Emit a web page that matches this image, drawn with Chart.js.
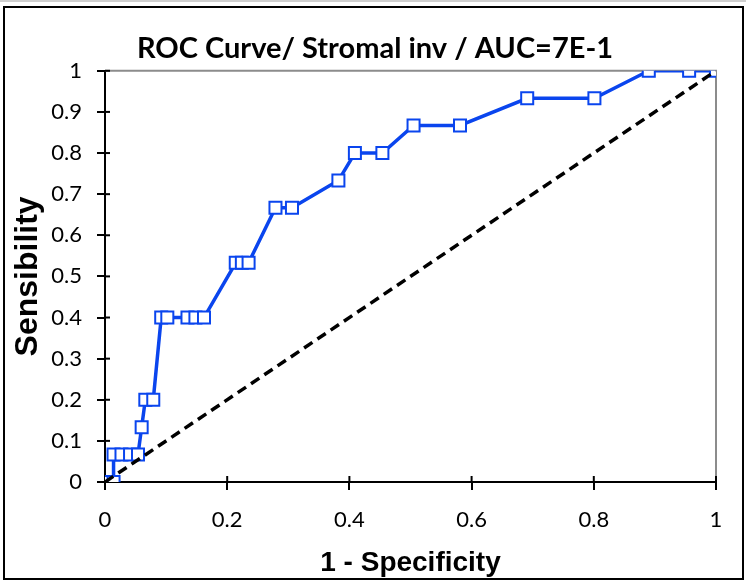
<!DOCTYPE html>
<html>
<head>
<meta charset="utf-8">
<script src="https://cdn.jsdelivr.net/npm/chart.js@4/dist/chart.umd.min.js"></script>
<style>
  html, body { margin: 0; padding: 0; background: #fff; }
  #wrap { width: 750px; height: 586px; position: relative; }
</style>
</head>
<body>
<div id="wrap"><canvas id="c" width="750" height="586"></canvas></div>
<script>
// ---- Data ----
const chartTitle = 'ROC Curve/ Stromal inv / AUC=7E-1';
const xAxisTitle = '1 - Specificity';
const yAxisTitle = 'Sensibility';

const fpr = [0, 0.014, 0.014, 0.027, 0.041, 0.054, 0.060, 0.066, 0.079, 0.092, 0.102,
             0.135, 0.148, 0.162, 0.214, 0.224, 0.235, 0.279, 0.306, 0.382, 0.409,
             0.454, 0.505, 0.581, 0.691, 0.801, 0.890, 0.956, 1];
const tpr = [0, 0, 0.067, 0.067, 0.067, 0.067, 0.133, 0.2, 0.2, 0.4, 0.4,
             0.4, 0.4, 0.4, 0.533, 0.533, 0.533, 0.667, 0.667, 0.733, 0.8,
             0.8, 0.867, 0.867, 0.933, 0.933, 1, 1, 1];
const diagX = [0, 1];
const diagY = [0, 1];
const xTickValues = [0, 0.2, 0.4, 0.6, 0.8, 1];
const yTickValues = [0, 0.1, 0.2, 0.3, 0.4, 0.5, 0.6, 0.7, 0.8, 0.9, 1];

const rocPoints = fpr.map((v, i) => ({ x: v, y: tpr[i] }));
const diagPoints = diagX.map((v, i) => ({ x: v, y: diagY[i] }));
const fmt = v => String(Math.round(v * 10) / 10);

const decor = {
  id: 'decor',
  beforeDatasetsDraw(chart) {
    const { ctx, chartArea: a, scales: { x, y } } = chart;
    ctx.save();
    ctx.strokeStyle = '#8c8c8c';
    ctx.lineWidth = 2;
    ctx.beginPath();
    ctx.moveTo(a.left, a.top);
    ctx.lineTo(a.right, a.top);
    ctx.lineTo(a.right, a.bottom);
    ctx.stroke();
    ctx.strokeStyle = '#000';
    ctx.lineWidth = 2;
    x.ticks.forEach(t => {
      const px = x.getPixelForValue(t.value);
      ctx.beginPath(); ctx.moveTo(px, a.bottom); ctx.lineTo(px, a.bottom - 6); ctx.stroke();
    });
    y.ticks.forEach(t => {
      const py = y.getPixelForValue(t.value);
      ctx.beginPath(); ctx.moveTo(a.left, py); ctx.lineTo(a.left + 5, py); ctx.stroke();
    });
    ctx.restore();
  },
  afterDraw(chart) {
    const ctx = chart.ctx;
    ctx.save();
    ctx.strokeStyle = '#cfcfcf';
    ctx.lineWidth = 2;
    ctx.beginPath(); ctx.moveTo(0, 1); ctx.lineTo(746, 1); ctx.stroke();
    ctx.strokeStyle = '#000';
    ctx.lineWidth = 2;
    ctx.strokeRect(4, 7, 739, 572);
    ctx.restore();
  }
};

new Chart(document.getElementById('c'), {
  type: 'scatter',
  data: {
    datasets: [
      {
        label: 'Reference',
        data: diagPoints,
        showLine: true,
        borderColor: '#000',
        borderWidth: 3.5,
        borderDash: [10, 6],
        pointRadius: 0,
        fill: false
      },
      {
        label: 'ROC',
        data: rocPoints,
        showLine: true,
        borderColor: '#0a45ee',
        borderWidth: 3.5,
        tension: 0,
        pointStyle: 'rect',
        pointRadius: 8.5,
        pointBackgroundColor: '#fff',
        pointBorderColor: '#0a45ee',
        pointBorderWidth: 2,
        fill: false
      }
    ]
  },
  options: {
    responsive: false,
    animation: false,
    devicePixelRatio: 1,
    layout: { padding: { left: 34, right: 34, top: 0, bottom: 0 } },
    plugins: {
      legend: { display: false },
      tooltip: { enabled: false },
      title: {
        display: true,
        text: chartTitle,
        color: '#000',
        font: { family: 'Lato', size: 29, weight: 'bold' },
        padding: { top: 31, bottom: 5 }
      }
    },
    scales: {
      x: {
        type: 'linear',
        min: 0, max: 1,
        afterBuildTicks: s => { s.ticks = xTickValues.map(v => ({ value: v })); },
        ticks: { color: '#000', font: { family: 'Lato', size: 22 }, padding: 17, callback: fmt, maxRotation: 0 },
        grid: { display: true, drawOnChartArea: false, drawTicks: true, tickLength: 8, color: '#000', lineWidth: 2 },
        border: { display: true, color: '#000', width: 2 },
        title: {
          display: true, text: xAxisTitle, color: '#000',
          font: { family: "'Liberation Sans', Arial, sans-serif", size: 28, weight: 'bold' },
          padding: { top: 0, bottom: 6 }
        },
        afterFit: s => { s.height = 104; }
      },
      y: {
        type: 'linear',
        min: 0, max: 1,
        afterBuildTicks: s => { s.ticks = yTickValues.map(v => ({ value: v })); },
        ticks: { color: '#000', font: { family: 'Lato', size: 22 }, padding: 15, callback: fmt },
        grid: { display: true, drawOnChartArea: false, drawTicks: true, tickLength: 8, color: '#000', lineWidth: 2 },
        border: { display: true, color: '#000', width: 2 },
        title: {
          display: true, text: yAxisTitle, color: '#000',
          font: { family: "'Liberation Sans', Arial, sans-serif", size: 32, weight: 'bold' },
          padding: { top: -25, bottom: 0 }
        },
        afterFit: s => { s.width = 71; }
      }
    }
  },
  plugins: [decor]
});
</script>
</body>
</html>
